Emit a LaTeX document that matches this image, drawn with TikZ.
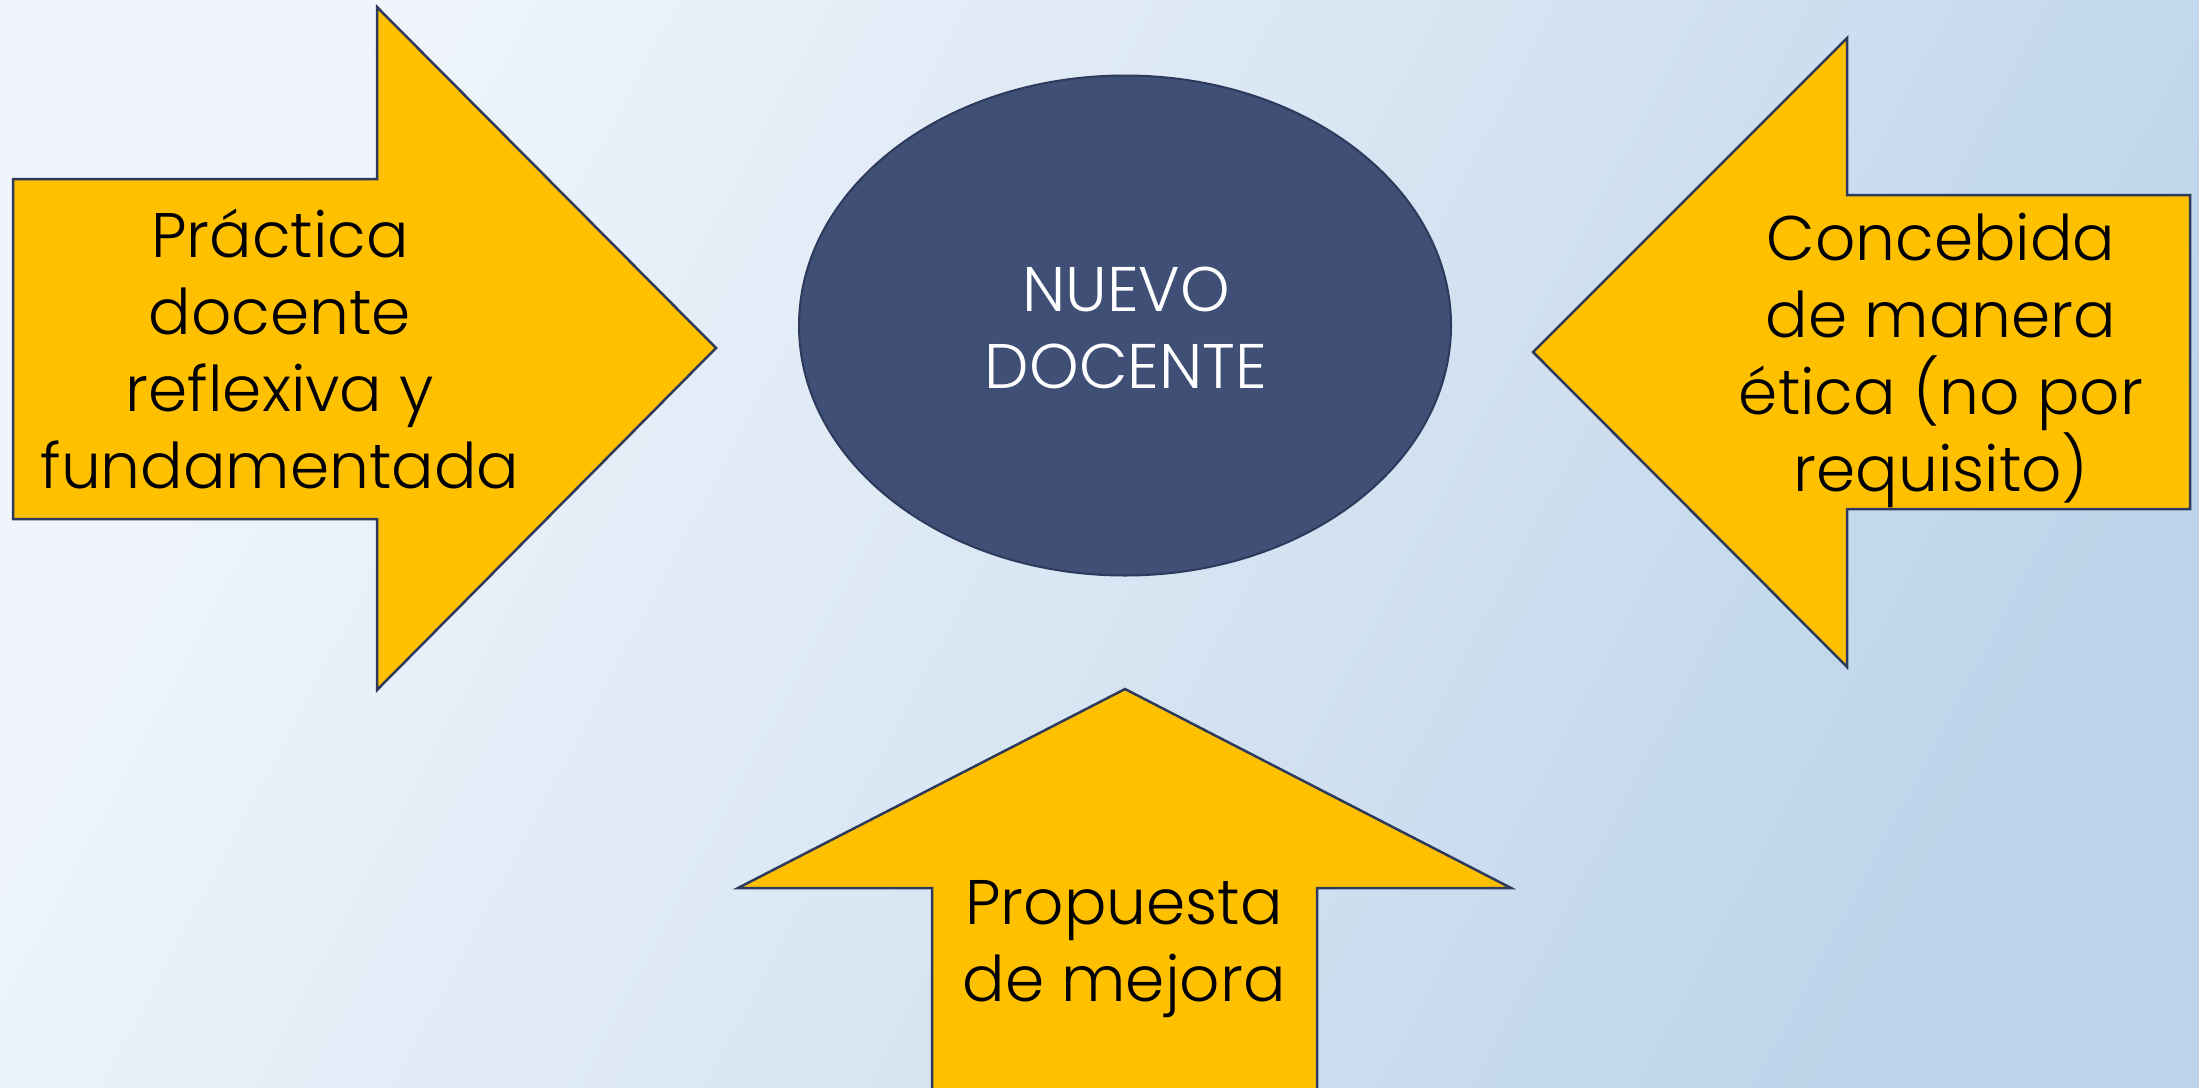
\documentclass[tikz,border=0pt]{standalone}
\usepackage{fontspec}
\setmainfont{Poppins}[UprightFont=* Light]
\usetikzlibrary{shapes.geometric}
\definecolor{bgA}{HTML}{F0F5FB}
\definecolor{bgB}{HTML}{BDD4EA}
\definecolor{gold}{HTML}{FFC000}
\definecolor{navyline}{HTML}{2E3A5C}
\definecolor{navyfill}{HTML}{3F4F76}
\tikzset{
  arrowshape/.style={fill=gold, draw=navyline, line width=2.5pt, line join=miter},
  bigtext/.style={font=\fontsize{63}{77}\selectfont, align=center, anchor=base, inner sep=0pt, text=black},
}
\begin{document}
\begin{tikzpicture}[x=1pt, y=-1pt]
\useasboundingbox (0,0) rectangle (2199,1087);
\shade[top color=bgA, bottom color=bgB, middle color=bgA!55!bgB, shading angle=62] (0,0) rectangle (2199,1087);
% left arrow
\draw[arrowshape] (13,179) -- (377,179) -- (377,7) -- (716,348) -- (377,690) -- (377,519) -- (13,519) -- cycle;
% right arrow
\draw[arrowshape] (2190,195) -- (1847,195) -- (1847,38) -- (1533,352) -- (1847,667) -- (1847,509) -- (2190,509) -- cycle;
% bottom arrow
\draw[arrowshape] (932,1095) -- (932,888) -- (738,888) -- (1125,689) -- (1511,888) -- (1317,888) -- (1317,1095);
% ellipse
\node[ellipse, fill=navyfill, draw=navyline, line width=2pt, minimum width=652pt, minimum height=500pt, inner sep=0pt] (core) at (1125,325.5) {};
\node[bigtext, text=white] (coretext) at (1126,388.5) {NUEVO\\DOCENTE};
\node[bigtext] (lefttext) at (280,488) {Práctica\\docente\\reflexiva y\\fundamentada};
\node[bigtext] (righttext) at (1941,491) {Concebida\\de manera\\ética (no por\\requisito)};
\node[bigtext] (bottomtext) at (1124,1001.5) {Propuesta\\de mejora};
\end{tikzpicture}
\end{document}
